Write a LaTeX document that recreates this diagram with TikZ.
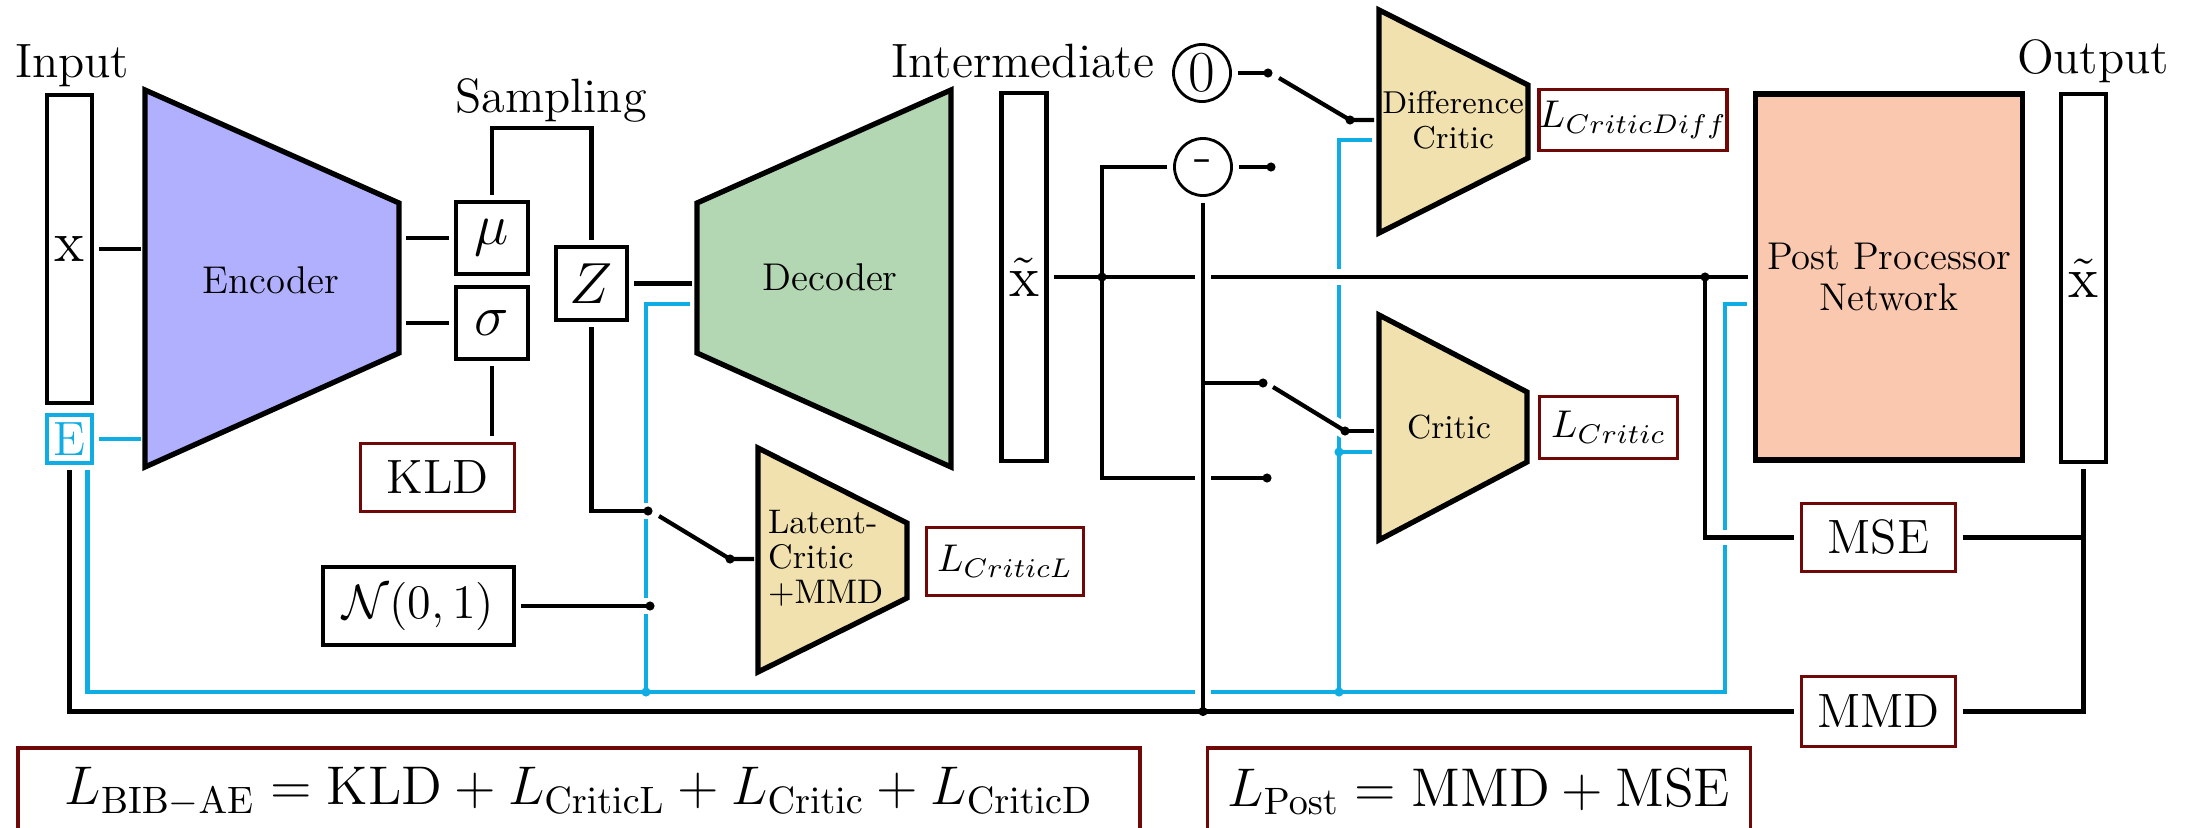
\documentclass[tikz,border=0pt]{standalone}
\usepackage{fix-cm}
\usepackage{amsmath,amssymb}
\usetikzlibrary{calc}

\definecolor{encfill}{RGB}{176,176,255}
\definecolor{decfill}{RGB}{179,214,179}
\definecolor{critfill}{RGB}{241,225,175}
\definecolor{postfill}{RGB}{249,200,175}
\definecolor{lossred}{RGB}{112,8,8}
\definecolor{backprop}{RGB}{16,172,228}

\newcommand{\sizeLbl}{\fontsize{13.7}{16}\selectfont}
\newcommand{\sizeSym}{\fontsize{16.5}{18}\selectfont}
\newcommand{\sizeNet}{\fontsize{11}{11.4}\selectfont}
\newcommand{\sizeEq}{\fontsize{15.5}{18}\selectfont}

\begin{document}
\begin{tikzpicture}[x=0.01cm, y=-0.01cm, line width=1.2pt,
    lbl/.style={anchor=base, font=\sizeLbl},
    bar/.style={draw, fill=white, minimum width=0.45cm, minimum height=3.68cm, inner sep=0pt, outer sep=2pt, font=\sizeSym},
    sym/.style={draw, inner sep=0pt, outer sep=2pt, font=\sizeSym},
    loss/.style={draw=lossred, line width=1pt, inner sep=0pt, outer sep=2pt, font=\sizeNet},
    net/.style={draw, line width=1.5pt, line join=miter},
    sw/.style={circle, draw, line width=0.8pt, minimum size=0.57cm, inner sep=0pt, outer sep=2pt, font=\sizeSym},
    dot/.style={circle, fill=black, inner sep=0pt, minimum size=2.6pt},
    cdot/.style={circle, fill=backprop, inner sep=0pt, minimum size=2.6pt},
    grad/.style={draw=backprop},
    bridge/.style={preaction={draw=white, line width=4.5pt}},
    knock/.style={draw=white, line width=4.5pt}]
\useasboundingbox (0,0) rectangle (2201,827);

% titles
\node[lbl] (inlbl) at (72,77) {Input};
\node[lbl] (samplbl) at (551,112) {Sampling};
\node[lbl] (midlbl) at (1023,77) {Intermediate};
\node[lbl] (outlbl) at (2093,73) {Output};

% data vectors
\node[bar, minimum height=3.08cm] (xin) at (69.5,249) {$\mathrm{x}$};
\node[bar, draw=backprop, text=backprop, minimum height=0.48cm, font=\sizeLbl] (E) at (69.5,439) {E};
\node[bar] (xmid) at (1024,277) {$\tilde{\mathrm{x}}$};
\node[bar] (xout) at (2083.5,278) {$\tilde{\mathrm{x}}$};

% networks
\draw[net, fill=encfill] (145,90) -- (399,203) -- (399,353) -- (145,467) -- cycle;
\node[font=\sizeNet] (enc) at (271,280) {Encoder};
\draw[net, fill=decfill] (697,203) -- (951,90) -- (951,467) -- (697,353) -- cycle;
\node[font=\sizeNet] (dec) at (830,277) {Decoder};
\draw[net, fill=critfill] (758,448) -- (907,523) -- (907,598) -- (758,672) -- cycle;
\node[align=left, anchor=west, inner sep=0pt, font=\fontsize{9.7}{10}\selectfont] (lat) at (766,558) {Latent-\\Critic\\+MMD};
\draw[net, fill=critfill] (1379,10) -- (1528,85) -- (1528,158) -- (1379,233) -- cycle;
\node[align=center, font=\fontsize{9}{10}\selectfont] (dcrit) at (1453,120) {Difference\\Critic};
\draw[net, fill=critfill] (1379,315) -- (1527,392) -- (1527,462) -- (1379,540) -- cycle;
\node[font=\fontsize{9.5}{11}\selectfont] (crit) at (1449,427) {Critic};
\node[draw, fill=postfill, line width=1.5pt, minimum width=2.66cm, minimum height=3.66cm, align=center, outer sep=2pt, font=\sizeNet] (post) at (1889,277) {Post Processor\\Network};

% latent space
\node[sym, minimum size=0.72cm] (mu) at (492,238) {$\mu$};
\node[sym, minimum size=0.72cm] (sigma) at (492,323) {$\sigma$};
\node[sym, minimum width=0.71cm, minimum height=0.73cm] (Z) at (591.5,283.5) {$Z$};
\node[sym, minimum width=1.91cm, minimum height=0.78cm, font=\sizeLbl] (prior) at (418.5,606) {$\mathcal{N}(0,1)$};

% losses
\node[loss, minimum width=1.54cm, minimum height=0.68cm, font=\sizeLbl] (kld) at (437.5,477.5) {KLD};
\node[loss, minimum width=1.57cm, minimum height=0.68cm] (lcl) at (1005,561.5) {$L_{CriticL}$};
\node[loss, minimum width=1.87cm, minimum height=0.61cm] (lcd) at (1633,120) {$L_{CriticDiff}$};
\node[loss, minimum width=1.38cm, minimum height=0.62cm] (lc) at (1608.5,427.5) {$L_{Critic}$};
\node[loss, minimum width=1.54cm, minimum height=0.68cm, font=\sizeLbl] (mse) at (1878.5,537.5) {MSE};
\node[loss, minimum width=1.54cm, minimum height=0.70cm, font=\sizeLbl] (mmd) at (1878.5,711.5) {MMD};
\node[loss, minimum width=11.21cm, minimum height=0.88cm, font=\sizeEq] (lae) at (579,792)
  {$L_{\mathrm{BIB-AE}} = \mathrm{KLD} + L_{\mathrm{CriticL}} + L_{\mathrm{Critic}} + L_{\mathrm{CriticD}}$};
\node[loss, minimum width=5.43cm, minimum height=0.88cm, font=\sizeEq] (lpost) at (1479,792)
  {$L_{\mathrm{Post}} = \mathrm{MMD} + \mathrm{MSE}$};

% critic inputs
\node[sw] (zero) at (1202,73) {0};
\node[sw] (minus) at (1203,167) {-};

% ports and switch contacts
\coordinate (enc-x) at (141,249);
\coordinate (enc-e) at (141,439);
\coordinate (enc-mu) at (406,238);
\coordinate (enc-sg) at (406,323);
\coordinate (dec-z) at (692,283.5);
\coordinate (dec-g) at (690,304);
\coordinate (lat-in) at (754,559);
\coordinate (dcr-in) at (1374,120);
\coordinate (dcr-g) at (1372,140);
\coordinate (cr-in) at (1374,431);
\coordinate (cr-g) at (1372,452);
\coordinate (post-g) at (1747,304);
\coordinate (s0) at (1279,78);
\coordinate (sm) at (1273,387);
\coordinate (sz) at (659,516);
\coordinate (d0) at (1268,73);
\coordinate (dd) at (1350,120);
\coordinate (dm) at (1271,167);
\coordinate (dmb) at (1263,383);
\coordinate (dc) at (1345,431);
\coordinate (db) at (1267,478);
\coordinate (jx) at (1102,277);
\coordinate (jp) at (1705,277);
\coordinate (jm) at (1203,711.5);
\coordinate (dz) at (648,511);
\coordinate (dlc) at (730,559);
\coordinate (dn) at (650,606);
\coordinate (gl) at (646,692);
\coordinate (gc) at (1339,692);
\coordinate (gcr) at (1339,452);
\coordinate (gr) at (1725,692);

% gradient paths
\draw[grad] (E.east) -- (enc-e);
\draw[grad] ($(E.south)+(18,0)$) |- (gr) |- (post-g);
\draw[grad] (gl) |- (dec-g);
\draw[grad] (gc) |- (dcr-g);
\draw[grad] (gcr) -- (cr-g);

% forward paths
\draw (xin.east) -- (enc-x);
\draw (enc-mu) -- (mu.west);
\draw (enc-sg) -- (sigma.west);
\draw (mu.north) -- ++(0,-67) -| (Z.north);
\draw (sigma.south) -- (sigma.south |- kld.north);
\draw (Z.east) -- (dec-z);
\draw[bridge] (Z.south) |- (dz);
\draw (sz) -- (dlc) -- (lat-in);
\draw[bridge] (prior.east) -- (dn);
\draw[bridge] (xmid.east) -- (post.west);
\draw (minus.west) -| (jx) |- (db);
\draw[bridge] (minus.south) -- (jm);
\draw (E.south) |- (mmd.west);
\draw (minus.south |- dmb) -- (dmb);
\draw[bridge] (sm) -- (dc);
\draw (dc) -- (cr-in);
\draw (zero.east) -- (d0);
\draw (s0) -- (dd) -- (dcr-in);
\draw (minus.east) -- (dm);
\path[knock] (jp |- mse.west) -- (mse.west);
\draw (jp) |- (mse.west);
\draw (mse.east) -- (mse.east -| xout.south);
\draw (mmd.east) -| (xout.south);

\foreach \p in {d0,dd,dm,dmb,dc,db,jx,jp,jm,dz,dlc,dn}
  \node[dot] (\p-pin) at (\p) {};
\foreach \p in {gl,gc,gcr}
  \node[cdot] (\p-pin) at (\p) {};
\end{tikzpicture}
\end{document}
